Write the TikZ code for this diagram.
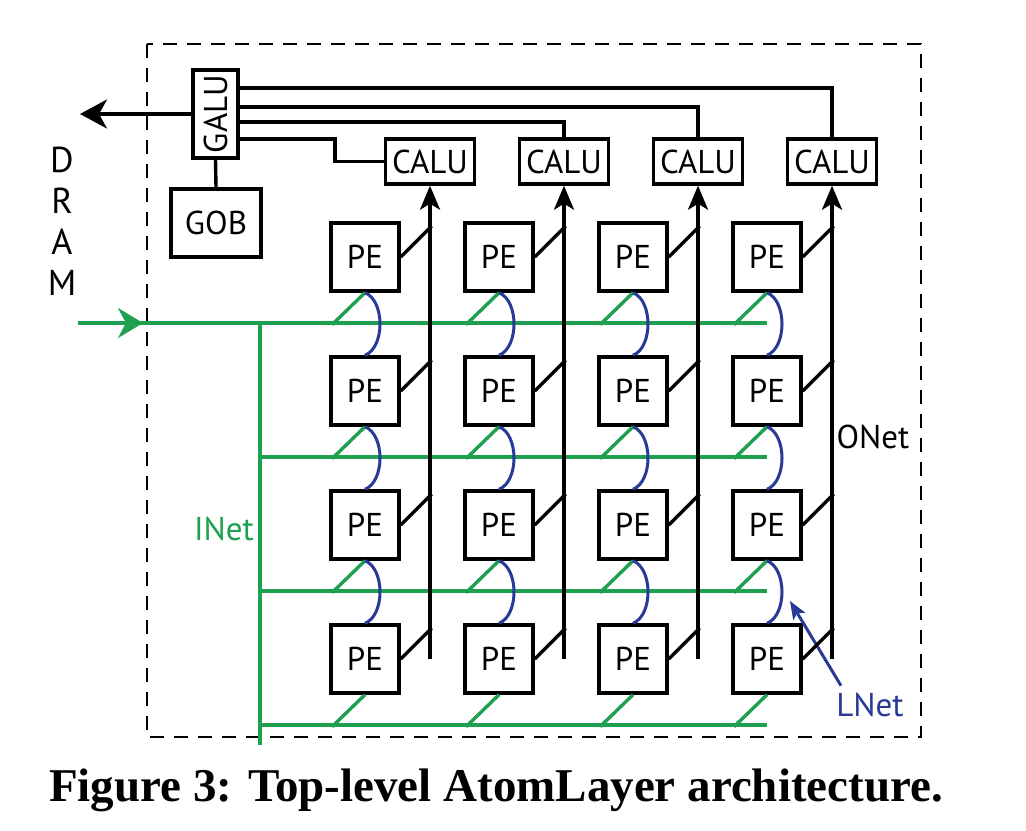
\documentclass[tikz,border=0pt]{standalone}
\usepackage{fontspec}
\setsansfont{PT Sans}
\newfontfamily\captionserif{Liberation Serif}
\usetikzlibrary{arrows.meta}
\definecolor{inetgreen}{RGB}{30,160,80}
\definecolor{lnetblue}{RGB}{38,58,150}

\begin{document}
\begin{tikzpicture}[x=0.5pt, y=-0.5pt,
	every node/.style={font=\sffamily\fontsize{16.5}{19}\selectfont},
	unit/.style={draw, line width=1.7pt, inner sep=0pt, fill=white},
	pebox/.style={unit, minimum width=34pt, minimum height=34pt},
	wire/.style={line width=1.7pt},
	gwire/.style={inetgreen, line width=1.7pt},
	lwire/.style={lnetblue, line width=1.5pt}]
	\useasboundingbox (0,0) rectangle (1026,830);
	\draw[line width=1.3pt, dash pattern=on 7pt off 5pt] (147,44) rectangle (921,737);

	% units
	\node[unit, minimum width=22.5pt, minimum height=44pt] (galu) at (215.5,114) {\rotatebox{90}{GALU}};
	\node[unit, minimum width=45pt, minimum height=34pt] (gob) at (216,223) {GOB};
	\foreach \c/\x in {1/365, 2/499, 3/633, 4/767} {
		\node[unit, minimum width=44.5pt, minimum height=22.5pt] (calu-\c) at (\x+65,161.5) {CALU};
		\foreach \r/\y in {1/257, 2/391, 3/525, 4/659} {\node[pebox] (pe-\r-\c) at (\x,\y) {PE};}
		\coordinate (onet-\c) at (\x+65,659);
	}

	% INet
	\coordinate (inet-in) at (78,323);
	\coordinate (inet-tip) at (143,323);
	\coordinate (inet-foot) at (260,745);
	\foreach \r/\y in {1/323, 2/457, 3/591, 4/725} {
		\coordinate (inet-\r) at (260,\y);
		\coordinate (inet-end-\r) at (767,\y);
		\draw[gwire] (inet-\r) -- (inet-end-\r);
	}
	\draw[gwire] (inet-in) -- (inet-1);
	\draw[gwire, -{Stealth[length=12.5pt, width=15pt, inset=4pt]}] (inet-in) -- (inet-tip);
	\draw[gwire] (inet-1) -- (inet-foot);
	\foreach \c in {1,2,3,4} {
		\foreach \r in {1,2,3,4} {\draw[gwire] (pe-\r-\c.south) -- ++(-33,32);}
	}
	\node[text=inetgreen] (inet-label) at (224,529) {INet};

	% LNet
	\foreach \c in {1,2,3,4} {
		\foreach \r/\s in {1/2, 2/3, 3/4} {\draw[lwire] (pe-\r-\c.south) .. controls +(20,8) and +(20,-8) .. (pe-\s-\c.north);}
	}
	\node[text=lnetblue, inner sep=2pt] (lnet-label) at (870,705) {LNet};
	\coordinate (lnet-tip) at (790,601);
	\draw[lwire, -{Stealth[length=9pt, width=7pt, inset=2pt]}] ([shift={(9,-3)}]lnet-label.north west) -- (lnet-tip);

	% ONet
	\foreach \c in {1,2,3,4} {
		\draw[wire, -{Stealth[length=12pt, width=10pt, inset=3pt]}] (onet-\c) -- (calu-\c.south);
		\foreach \r in {1,2,3,4} {\draw[wire] (pe-\r-\c.east) -- ++(31,-31);}
	}
	\node (onet-label) at (873,437) {ONet};

	% GALU links
	\draw[wire] (galu.east) ++(0,25) -- (335,139) |- (calu-1.west);
	\draw[wire] (galu.east) ++(0,8) -| (calu-2.north);
	\draw[wire] (galu.east) ++(0,-7) -| (calu-3.north);
	\draw[wire] (galu.east) ++(0,-26) -| (calu-4.north);
	\draw[wire] (galu.south) -- (gob.north);
	\coordinate (dram) at (80,114);
	\draw[wire, -{Stealth[length=13.5pt, width=14.5pt, inset=4pt]}] (galu.west) -- (dram);
	\node[align=center, font=\sffamily\fontsize{18}{20.5}\selectfont] (dram-label) at (62,221) {D\\R\\A\\M};

	\node[font=\captionserif\bfseries\fontsize{23.5}{27}\selectfont] (caption) at (496,790) {Figure 3: Top-level AtomLayer architecture.};
\end{tikzpicture}
\end{document}
